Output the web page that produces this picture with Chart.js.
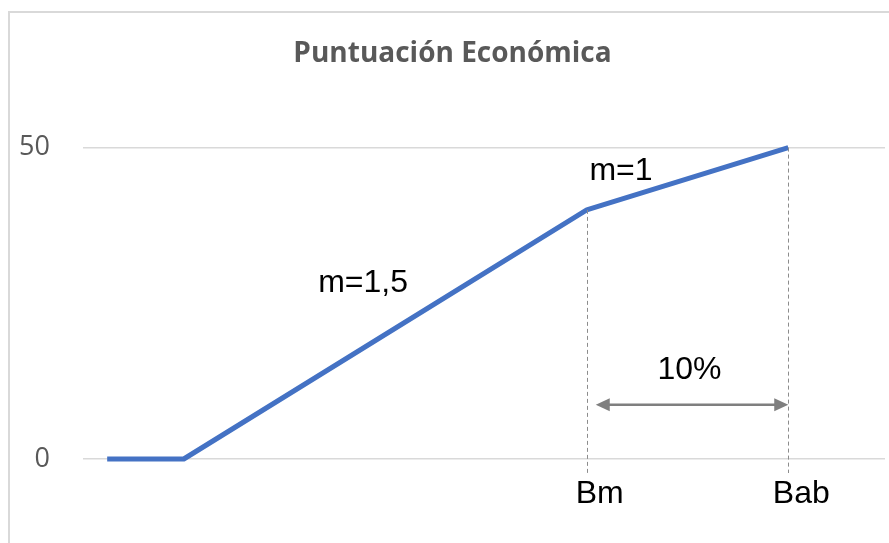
<!DOCTYPE html>
<html>
<head>
<meta charset="utf-8">
<script src="https://cdn.jsdelivr.net/npm/chart.js@4.4.1/dist/chart.umd.min.js"></script>
<style>
    html, body { margin: 0; padding: 0; background: #fff; overflow: hidden; }
    #wrap { position: relative; width: 889px; height: 543px; }
    #frame {
        position: absolute; left: 8px; top: 11px; width: 1200px; height: 1200px;
        border: 2px solid #d9d9d9; box-sizing: border-box;
    }
    #chart { position: absolute; left: 0; top: 0; }
</style>
</head>
<body>
<div id="wrap">
    <div id="frame"></div>
    <canvas id="chart" width="889" height="543"></canvas>
</div>
<script>
// Data
const xValues = [66.2, 70, 90, 100];
const scores = [0, 0, 40, 50];
const tickValues = [90, 100];
const tickNames = ['Bm', 'Bab'];
const yTicks = [0, 50];

// Text notes placed in data units
const noteTexts = ['m=1,5', 'm=1', '10%'];
const noteX = [78.9, 91.7, 95.1];
const noteY = [28.3, 46.2, 14.2];

// Arrow between Bm and Bab at this score level
const arrowLevel = 8.7;

const FONT = "'Liberation Sans', Arial, sans-serif";
const GRAY_FONT = "'Open Sans', 'Liberation Sans', sans-serif";

// Draw dashed guides, arrow and text notes
const annotationsPlugin = {
    id: 'annotations',
    afterDatasetsDraw(chart) {
        const ctx = chart.ctx;
        const xs = chart.scales.x;
        const ys = chart.scales.y;
        const bottom = chart.chartArea.bottom;

        ctx.save();

        // Dashed vertical guides
        ctx.strokeStyle = '#8c8c8c';
        ctx.lineWidth = 1;
        ctx.setLineDash([4, 3]);
        tickValues.forEach(v => {
            const i = xValues.indexOf(v);
            const px = Math.round(xs.getPixelForValue(v)) + 0.5;
            ctx.beginPath();
            ctx.moveTo(px, ys.getPixelForValue(scores[i]));
            ctx.lineTo(px, bottom + 14);
            ctx.stroke();
        });
        ctx.setLineDash([]);

        // Double-headed arrow
        const ay = ys.getPixelForValue(arrowLevel);
        const ax1 = xs.getPixelForValue(tickValues[0]) + 9;
        const ax2 = xs.getPixelForValue(tickValues[1]);
        const head = 14;
        const half = 6.5;
        ctx.strokeStyle = '#7f7f7f';
        ctx.fillStyle = '#7f7f7f';
        ctx.lineWidth = 2.5;
        ctx.beginPath();
        ctx.moveTo(ax1 + head - 2, ay);
        ctx.lineTo(ax2 - head + 2, ay);
        ctx.stroke();
        ctx.beginPath();
        ctx.moveTo(ax1, ay);
        ctx.lineTo(ax1 + head, ay - half);
        ctx.lineTo(ax1 + head, ay + half);
        ctx.closePath();
        ctx.fill();
        ctx.beginPath();
        ctx.moveTo(ax2, ay);
        ctx.lineTo(ax2 - head, ay - half);
        ctx.lineTo(ax2 - head, ay + half);
        ctx.closePath();
        ctx.fill();

        // Text notes
        ctx.fillStyle = '#000';
        ctx.font = '32px ' + FONT;
        ctx.textAlign = 'center';
        ctx.textBaseline = 'middle';
        noteTexts.forEach((t, i) => {
            ctx.fillText(t, xs.getPixelForValue(noteX[i]), ys.getPixelForValue(noteY[i]));
        });

        ctx.restore();
    }
};

const ctx = document.getElementById('chart').getContext('2d');
new Chart(ctx, {
    type: 'line',
    data: {
        datasets: [{
            label: 'Puntuación',
            data: xValues.map((x, i) => ({ x: x, y: scores[i] })),
            borderColor: '#4472c4',
            borderWidth: 5,
            borderJoinStyle: 'round',
            pointRadius: 0,
            tension: 0,
            clip: false
        }]
    },
    options: {
        responsive: false,
        animation: false,
        layout: { padding: { left: 20, right: 4, top: 0, bottom: 0 } },
        plugins: {
            legend: { display: false },
            tooltip: { enabled: false },
            title: {
                display: true,
                text: 'Puntuación Económica',
                color: '#595959',
                font: { family: GRAY_FONT, size: 28, weight: 'bold' },
                padding: { top: 37, bottom: 77 }
            }
        },
        scales: {
            x: {
                type: 'linear',
                min: 65,
                max: 104.8,
                border: { display: false },
                grid: { display: false, drawTicks: false },
                afterBuildTicks: scale => {
                    scale.ticks = tickValues.map(v => ({ value: v }));
                },
                afterFit: scale => { scale.height = 84; },
                ticks: {
                    padding: 16,
                    labelOffset: 13,
                    color: '#000',
                    font: { family: FONT, size: 32 },
                    maxRotation: 0,
                    autoSkip: false,
                    callback: value => tickNames[tickValues.indexOf(value)]
                }
            },
            y: {
                min: 0,
                max: 50,
                border: { display: false },
                grid: { color: '#d9d9d9', lineWidth: 1.5, drawTicks: false },
                afterBuildTicks: scale => {
                    scale.ticks = yTicks.map(v => ({ value: v }));
                },
                afterFit: scale => { scale.width = 63; },
                ticks: {
                    padding: 33,
                    color: '#595959',
                    font: { family: GRAY_FONT, size: 27 }
                }
            }
        }
    },
    plugins: [annotationsPlugin]
});
</script>
</body>
</html>
